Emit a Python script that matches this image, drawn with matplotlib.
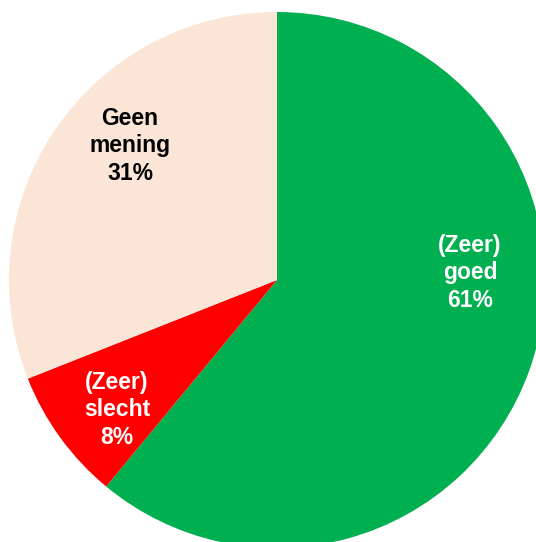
import matplotlib
matplotlib.use("Agg")
import matplotlib.pyplot as plt

labels = ["(Zeer)\ngoed\n61%", "(Zeer)\nslecht\n8%", "Geen\nmening\n31%"]
values = [61, 8, 31]
colors = ["#00B050", "#FF0000", "#FBE5D6"]
text_colors = ["white", "white", "black"]
label_pos_px = [(470, 273), (117, 410), (130, 146)]

W, H = 536, 542
cx, cy, r = 277, 280, 268

fig = plt.figure(figsize=(W / 100, H / 100), dpi=100)
ax = fig.add_axes([0, 0, 1, 1])
ax.pie(values, colors=colors, startangle=90, counterclock=False,
       radius=1, center=(0, 0), wedgeprops=dict(linewidth=0))
ax.set_aspect("auto")
ax.set_xlim(-cx / r, (W - cx) / r)
ax.set_ylim(-(H - cy) / r, cy / r)
ax.axis("off")

for lab, tc, (px, py) in zip(labels, text_colors, label_pos_px):
    ax.text((px - cx) / r, (cy - py) / r, lab, ha="center", va="center",
            color=tc, fontsize=16.5, fontweight="bold",
            family=["Liberation Sans", "DejaVu Sans"], linespacing=1.27)

fig.savefig("out.png", dpi=100)
